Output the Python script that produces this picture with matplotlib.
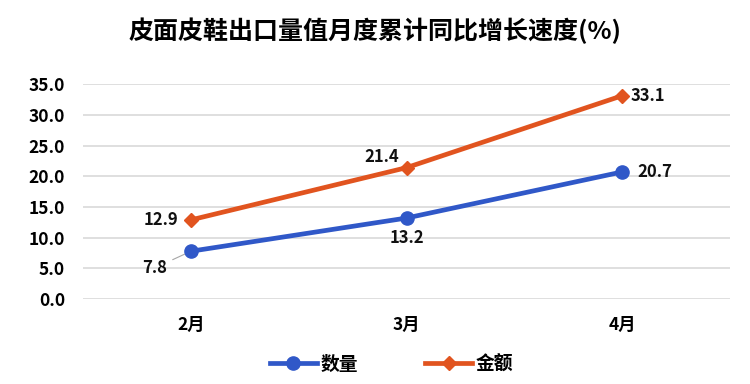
import matplotlib
matplotlib.use("Agg")
import matplotlib.pyplot as plt
from matplotlib.lines import Line2D

plt.rcParams["font.family"] = ["Noto Sans CJK SC", "DejaVu Sans"]

months = ["2月", "3月", "4月"]
qty = [7.8, 13.2, 20.7]
amount = [12.9, 21.4, 33.1]
yticks = [0, 5, 10, 15, 20, 25, 30, 35]

BLUE = "#3058c8"
ORANGE = "#e1541f"

fig = plt.figure(figsize=(7.5, 3.84), dpi=100)
ax = fig.add_axes([0.111, 0.221, 0.862, 0.560])

x = list(range(len(months)))
ax.plot(x, qty, color=BLUE, lw=3.4, marker="o", markersize=9.5, zorder=4)
ax.plot(x, amount, color=ORANGE, lw=3.4, marker="D", markersize=7, zorder=4)

ax.set_xlim(-0.5, 2.5)
ax.set_ylim(0, 35)
ax.set_yticks(yticks)
ax.set_yticklabels([f"{v:.1f}" for v in yticks], fontsize=12.5, fontweight="bold")
ax.set_xticks(x)
ax.set_xticklabels(months, fontsize=12.5, fontweight="bold")
ax.tick_params(length=0)
ax.tick_params(axis="x", pad=12)
ax.tick_params(axis="y", pad=13)
ax.grid(axis="y", color="#d9d9d9", lw=1.2)
ax.set_axisbelow(True)
for s in ax.spines.values():
    s.set_visible(False)

lab = dict(fontsize=12, fontweight="bold", color="#111111")
# 金额 labels
ax.annotate(f"{amount[0]:.1f}", (0, amount[0]), xytext=(-9, 0), textcoords="offset points",
            ha="right", va="center", **lab)
ax.annotate(f"{amount[1]:.1f}", (1, amount[1]), xytext=(-5, 8), textcoords="offset points",
            ha="right", va="center", **lab)
ax.annotate(f"{amount[2]:.1f}", (2, amount[2]), xytext=(6, 0), textcoords="offset points",
            ha="left", va="center", **lab)
# 数量 labels
ax.annotate(f"{qty[0]:.1f}", (0, qty[0]), xytext=(-17, -12), textcoords="offset points",
            ha="right", va="center",
            arrowprops=dict(arrowstyle="-", color="#a6a6a6", lw=0.8,
                            shrinkA=2, shrinkB=5), **lab)
ax.annotate(f"{qty[1]:.1f}", (1, qty[1]), xytext=(0, -8), textcoords="offset points",
            ha="center", va="top", **lab)
ax.annotate(f"{qty[2]:.1f}", (2, qty[2]), xytext=(11, 0), textcoords="offset points",
            ha="left", va="center", **lab)

fig.suptitle("皮面皮鞋出口量值月度累计同比增长速度(%)", x=0.5, y=0.955,
             fontsize=18, fontweight="bold")

handles = [
    Line2D([0], [0], color=BLUE, lw=3.4, marker="o", markersize=9.5, label="数量"),
    Line2D([0], [0], color=ORANGE, lw=3.4, marker="D", markersize=7, label="金额"),
]
fig.legend(handles=handles, loc="center", bbox_to_anchor=(0.522, 0.052), ncol=2,
           frameon=False, handlelength=2.5, columnspacing=3.6, handletextpad=0.2,
           prop=dict(size=13.5, weight="bold"))

fig.savefig("out.png", dpi=100, facecolor="white")
